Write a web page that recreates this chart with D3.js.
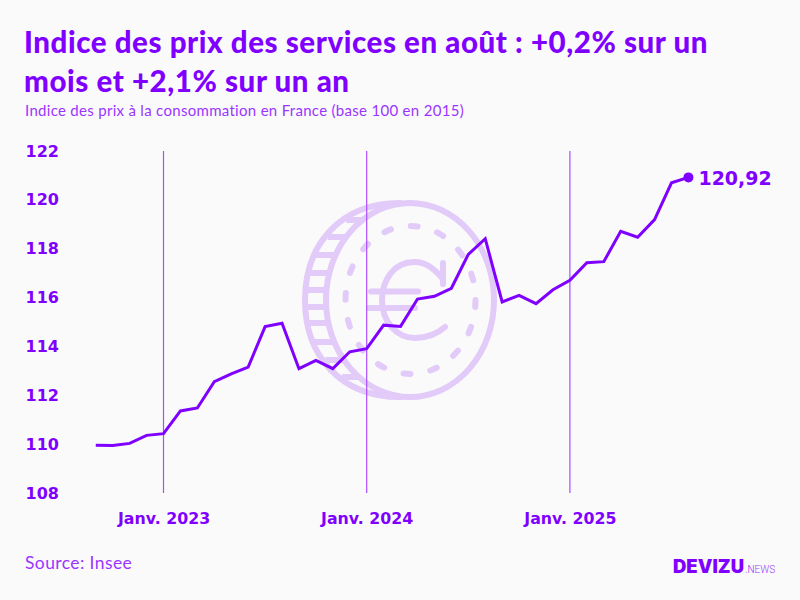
<!DOCTYPE html>
<html>
<head>
<meta charset="utf-8">
<script src="https://cdn.jsdelivr.net/npm/d3@7"></script>
<style>
  html, body { margin: 0; padding: 0; background: #fafafa; }
  svg { display: block; }
</style>
</head>
<body>
<svg id="chart" width="800" height="600"></svg>
<script>
// monthly index, sept. 2022 -> aout 2025
var startDate = new Date(2022, 8, 1)
var values = [109.95, 109.94, 110.03, 110.36, 110.43, 111.36, 111.48, 112.56, 112.88, 113.15,
              114.81, 114.95, 113.09, 113.43, 113.09, 113.78, 113.91, 114.87, 114.82, 115.94,
              116.05, 116.38, 117.77, 118.41, 115.82, 116.09, 115.75, 116.32, 116.71, 117.43,
              117.47, 118.71, 118.47, 119.19, 120.70, 120.92]
var yTicks = [108, 110, 112, 114, 116, 118, 120, 122]
var xTicks = [new Date(2023, 0, 1), new Date(2024, 0, 1), new Date(2025, 0, 1)]
var xLabels = ["Janv. 2023", "Janv. 2024", "Janv. 2025"]
var titleLines = ["Indice des prix des services en août : +0,2% sur un", "mois et +2,1% sur un an"]
var subtitle = "Indice des prix à la consommation en France (base 100 en 2015)"
var lastLabel = "120,92"

var purple = "#7f00ff"
var lightPurple = "#9a35ff"
var coinColor = "#e2caf9"

var svg = d3.select("#chart")
svg.append("rect").attr("width", 800).attr("height", 600).attr("fill", "#fafafa")

var dates = values.map(function(d, i) {
    return new Date(startDate.getFullYear(), startDate.getMonth() + i, 1)
})

var x = d3.scaleLinear()
    .domain([0, 12])
    .range([163.5, 366.7])
var monthIndex = function(dt) {
    return (dt.getFullYear() - 2023) * 12 + dt.getMonth()
}
var y = d3.scaleLinear().domain([108, 122]).range([493, 151])

// titles
svg.selectAll(".title").data(titleLines).enter().append("text")
    .attr("class", "title")
    .attr("x", 24)
    .attr("y", function(d, i) { return 53 + i * 38.7 })
    .attr("font-family", "Lato")
    .attr("font-weight", 900)
    .attr("font-size", 29.5)
    .attr("letter-spacing", 0.56)
    .attr("fill", purple)
    .text(function(d) { return d })

svg.append("text")
    .attr("x", 25).attr("y", 116)
    .attr("font-family", "Lato")
    .attr("font-size", 15)
    .attr("letter-spacing", 0.3)
    .attr("fill", lightPurple)
    .text(subtitle)

// coin in the background
var coin = svg.append("g")
    .attr("fill", "none")
    .attr("stroke", coinColor)
    .attr("stroke-width", 6)
    .attr("stroke-linecap", "round")

coin.append("ellipse").attr("cx", 410).attr("cy", 300).attr("rx", 84).attr("ry", 97)
coin.append("path").attr("d", "M400,203 C340,203 305,245 305,300 C305,355 340,397 400,397")
coin.append("ellipse").attr("cx", 410.5).attr("cy", 300).attr("rx", 65).attr("ry", 74)
    .attr("stroke-dasharray", "7 20.3")

var rimLevels = [220, 237, 255, 273, 290, 307, 323, 342, 360, 377]
coin.selectAll(".rim").data(rimLevels).enter().append("line")
    .attr("class", "rim")
    .attr("stroke-linecap", "butt")
    .attr("y1", function(d) { return d })
    .attr("y2", function(d) { return d })
    .attr("x1", function(d) {
        var t = (d - 300) / 97
        return 400 - 95 * Math.sqrt(1 - t * t)
    })
    .attr("x2", function(d) {
        var t = (d - 300) / 97
        return 410 - 84 * Math.sqrt(1 - t * t)
    })

coin.append("path").attr("d", "M443,284 L443,263 M443,279 C432,266 424,262 414,262 C395,262 382,279 382,300 C382,322 397,338 415,338 C427,338 437,334 445,327")
coin.append("line").attr("x1", 371).attr("x2", 418).attr("y1", 291.5).attr("y2", 291.5)
coin.append("line").attr("x1", 369).attr("x2", 415).attr("y1", 308).attr("y2", 308)

// january rules
svg.selectAll(".rule").data(xTicks).enter().append("line")
    .attr("class", "rule")
    .attr("x1", function(d) { return x(monthIndex(d)) })
    .attr("x2", function(d) { return x(monthIndex(d)) })
    .attr("y1", y(122))
    .attr("y2", y(108))
    .attr("stroke", "#a94dff")
    .attr("stroke-width", 1.2)

// axes
var yAxis = d3.axisLeft(y).tickValues(yTicks).tickSize(0).tickPadding(0)
var gy = svg.append("g").attr("transform", "translate(59,0)").call(yAxis)
gy.select(".domain").remove()
gy.selectAll("text")
    .attr("font-family", "DejaVu Sans")
    .attr("font-weight", 700)
    .attr("font-size", 16)
    .attr("fill", purple)

var xAxis = d3.axisBottom(x)
    .tickValues(xTicks.map(monthIndex))
    .tickSize(0)
    .tickFormat(function(d, i) { return xLabels[i] })
var gx = svg.append("g").attr("transform", "translate(0,510)").call(xAxis)
gx.select(".domain").remove()
gx.selectAll("text")
    .attr("font-family", "DejaVu Sans")
    .attr("font-weight", 700)
    .attr("font-size", 15.8)
    .attr("fill", purple)

// the series
var line = d3.line()
    .x(function(d, i) { return x(monthIndex(dates[i])) })
    .y(function(d) { return y(d) })

svg.append("path")
    .datum(values)
    .attr("d", line)
    .attr("fill", "none")
    .attr("stroke", purple)
    .attr("stroke-width", 3)
    .attr("stroke-linejoin", "miter")

var lastI = values.length - 1
svg.append("circle")
    .attr("cx", x(monthIndex(dates[lastI])))
    .attr("cy", y(values[lastI]))
    .attr("r", 5)
    .attr("fill", purple)

svg.append("text")
    .attr("x", x(monthIndex(dates[lastI])) + 10)
    .attr("y", y(values[lastI]) + 8)
    .attr("font-family", "DejaVu Sans")
    .attr("font-weight", 700)
    .attr("font-size", 19)
    .attr("fill", purple)
    .text(lastLabel)

// footer
svg.append("text")
    .attr("x", 25).attr("y", 569)
    .attr("font-family", "Lato")
    .attr("font-size", 17.5)
    .attr("letter-spacing", 0.4)
    .attr("fill", lightPurple)
    .text("Source: Insee")

svg.append("text")
    .attr("x", 673).attr("y", 573)
    .attr("font-family", "Inter")
    .attr("font-weight", 900)
    .attr("font-size", 18.5)
    .attr("fill", purple)
    .text("DEVIZU")

svg.append("text")
    .attr("x", 745).attr("y", 573)
    .attr("font-family", "Roboto")
    .attr("font-weight", 300)
    .attr("font-size", 10)
    .attr("fill", lightPurple)
    .text(".NEWS")
</script>
</body>
</html>
